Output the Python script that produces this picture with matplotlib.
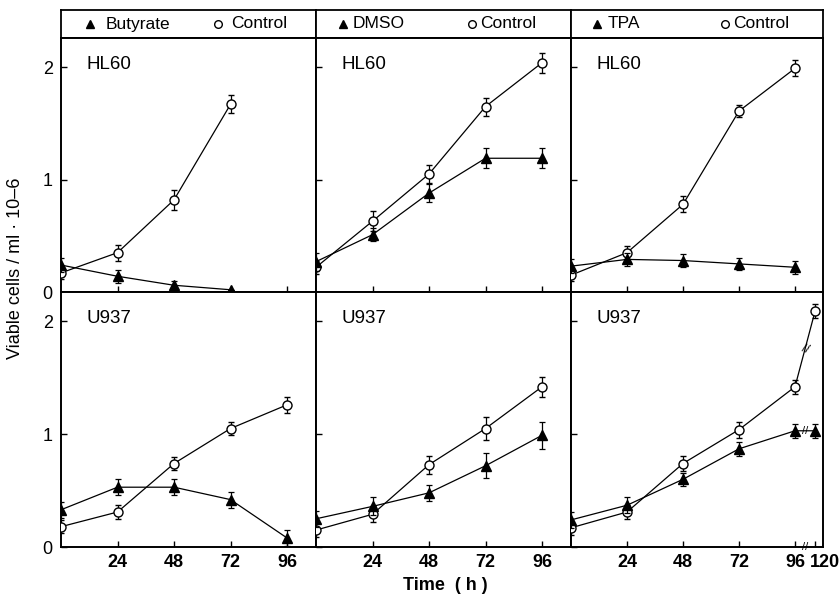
import matplotlib
matplotlib.use('Agg')
import matplotlib.pyplot as plt
import matplotlib.transforms as mtransforms

plt.rcParams['font.family'] = ['Liberation Sans', 'DejaVu Sans']

# time points (h)
hours = [0, 24, 48, 72, 96]
hours_short = [0, 24, 48, 72]
hours_long = [0, 24, 48, 72, 96, 120]

treatments = ['Butyrate', 'DMSO', 'TPA']
cell_lines = ['HL60', 'U937']

# HL60
hl60_butyrate = [0.24, 0.14, 0.06, 0.02]
hl60_butyrate_err = [0.06, 0.06, 0.04, 0.0]
hl60_butyrate_ctrl = [0.17, 0.35, 0.82, 1.67]
hl60_butyrate_ctrl_err = [0.05, 0.07, 0.09, 0.08]

hl60_dmso = [0.27, 0.51, 0.88, 1.19, 1.19]
hl60_dmso_err = [0.08, 0.06, 0.08, 0.09, 0.09]
hl60_dmso_ctrl = [0.22, 0.63, 1.05, 1.65, 2.04]
hl60_dmso_ctrl_err = [0.06, 0.09, 0.08, 0.08, 0.09]

hl60_tpa = [0.23, 0.29, 0.28, 0.25, 0.22]
hl60_tpa_err = [0.06, 0.06, 0.06, 0.05, 0.06]
hl60_tpa_ctrl = [0.15, 0.35, 0.78, 1.61, 1.99]
hl60_tpa_ctrl_err = [0.05, 0.06, 0.07, 0.05, 0.07]

# U937
u937_butyrate = [0.33, 0.53, 0.53, 0.42, 0.08]
u937_butyrate_err = [0.07, 0.07, 0.07, 0.07, 0.07]
u937_butyrate_ctrl = [0.18, 0.31, 0.74, 1.05, 1.26]
u937_butyrate_ctrl_err = [0.06, 0.06, 0.06, 0.06, 0.07]

u937_dmso = [0.25, 0.36, 0.48, 0.72, 0.99]
u937_dmso_err = [0.07, 0.08, 0.07, 0.11, 0.12]
u937_dmso_ctrl = [0.15, 0.29, 0.73, 1.05, 1.42]
u937_dmso_ctrl_err = [0.06, 0.07, 0.08, 0.10, 0.09]

u937_tpa = [0.24, 0.37, 0.60, 0.87, 1.03, 1.03]
u937_tpa_err = [0.07, 0.07, 0.06, 0.06, 0.06, 0.06]
u937_tpa_ctrl = [0.17, 0.31, 0.74, 1.04, 1.42, 2.09]
u937_tpa_ctrl_err = [0.06, 0.06, 0.07, 0.07, 0.06, 0.06]

panels = {
    ('HL60', 'Butyrate'): (hours_short, hl60_butyrate, hl60_butyrate_err, hl60_butyrate_ctrl, hl60_butyrate_ctrl_err),
    ('HL60', 'DMSO'): (hours, hl60_dmso, hl60_dmso_err, hl60_dmso_ctrl, hl60_dmso_ctrl_err),
    ('HL60', 'TPA'): (hours, hl60_tpa, hl60_tpa_err, hl60_tpa_ctrl, hl60_tpa_ctrl_err),
    ('U937', 'Butyrate'): (hours, u937_butyrate, u937_butyrate_err, u937_butyrate_ctrl, u937_butyrate_ctrl_err),
    ('U937', 'DMSO'): (hours, u937_dmso, u937_dmso_err, u937_dmso_ctrl, u937_dmso_ctrl_err),
    ('U937', 'TPA'): (hours_long, u937_tpa, u937_tpa_err, u937_tpa_ctrl, u937_tpa_ctrl_err),
}


def xpos(h):
    # compressed axis after the break at 96 h
    return h if h <= 96 else 96 + (h - 96) * 8.6 / 24


W, H = 839, 596
fig = plt.figure(figsize=(W / 100, H / 100), dpi=100)

col_x = [61, 316, 571]
col_w = [255, 255, 252]
row_top = [38, 292]
row_bot = [292, 547]

for j, treat in enumerate(treatments):
    # header strip with legend
    hx = fig.add_axes([col_x[j] / W, 1 - 38 / H, col_w[j] / W, 28 / H])
    hx.set_xlim(0, 1)
    hx.set_ylim(0, 1)
    hx.set_xticks([])
    hx.set_yticks([])
    for s in hx.spines.values():
        s.set_linewidth(1.3)
    tri_x = 0.114 if j == 0 else 0.105
    ctl_x = 0.616 if j == 0 else 0.61
    hx.plot([tri_x], [0.5], marker='^', color='black', ms=6, ls='none')
    hx.text(tri_x + (0.06 if j == 0 else 0.04), 0.5, treat, fontsize=12.5,
            va='center', ha='left')
    hx.plot([ctl_x], [0.5], marker='o', mfc='white', mec='black', mew=1.0, ms=5.5, ls='none')
    hx.text(ctl_x + (0.05 if j == 0 else 0.035), 0.5, 'Control', fontsize=12.5,
            va='center', ha='left')

    for i, line in enumerate(cell_lines):
        ax = fig.add_axes([col_x[j] / W, 1 - row_bot[i] / H, col_w[j] / W,
                           (row_bot[i] - row_top[i]) / H])
        t, trt, trt_err, ctl, ctl_err = panels[(line, treat)]
        xs = [xpos(h) for h in t]
        ax.errorbar(xs, ctl, yerr=ctl_err, color='black', lw=0.9, marker='o',
                    mfc='white', mec='black', mew=1.0, ms=6.5, capsize=2.3,
                    elinewidth=0.9, capthick=0.9, zorder=3)
        ax.errorbar(xs, trt, yerr=trt_err, color='black', lw=0.9, marker='^',
                    mfc='black', mec='black', ms=7, capsize=2.3,
                    elinewidth=0.9, capthick=0.9, zorder=4)
        ax.set_ylim(0, 2.26)
        ax.set_xlim(0, 108.3 if j < 2 else 108)
        ax.set_yticks([0, 1, 2])
        ticks = [24, 48, 72, 96]
        labels = ['24', '48', '72', '96']
        if j == 2 and i == 1:
            ticks = ticks + [xpos(120)]
            labels = labels + ['120']
        ax.set_xticks(ticks)
        ax.tick_params(direction='in', length=4, width=1.0)
        if i == 1:
            ax.set_xticklabels(labels, fontsize=13, fontweight='bold')
            ax.tick_params(axis='x', pad=5)
            if j == 2:
                lab = ax.get_xticklabels()[-1]
                lab.set_ha('left')
                lab.set_transform(lab.get_transform() + mtransforms.ScaledTranslation(
                    -5 / 100, 0, fig.dpi_scale_trans))
        else:
            ax.set_xticklabels([])
        if j == 0:
            ax.set_yticklabels(['0', '1', '2'], fontsize=13)
            ax.tick_params(axis='y', pad=6)
        else:
            ax.set_yticklabels([])
        for s in ax.spines.values():
            s.set_linewidth(1.4)
        ax.text(0.1, 0.93, line, transform=ax.transAxes, fontsize=13.5,
                ha='left', va='top')
        if j == 2 and i == 1:
            # axis break marks
            mid = (xs[-2] + xs[-1]) / 2
            ax.text(mid, (ctl[-2] + ctl[-1]) / 2, '//', fontsize=9,
                    ha='center', va='center', rotation=-20, zorder=5)
            ax.text(mid, trt[-1], '//', fontsize=8, ha='center', va='center',
                    zorder=5)
            ax.text(mid, 0.0, '//', fontsize=8, ha='center', va='center',
                    zorder=5, clip_on=False)

fig.text(16 / W, 1 - 268 / H, 'Viable cells / ml \u00b7 10\u20136', rotation=90,
         fontsize=13, ha='center', va='center')
fig.text(445 / W, 1 - 585 / H, 'Time  ( h )', fontsize=13,
         fontweight='bold', ha='center', va='center')

fig.savefig('out.png', dpi=100)
